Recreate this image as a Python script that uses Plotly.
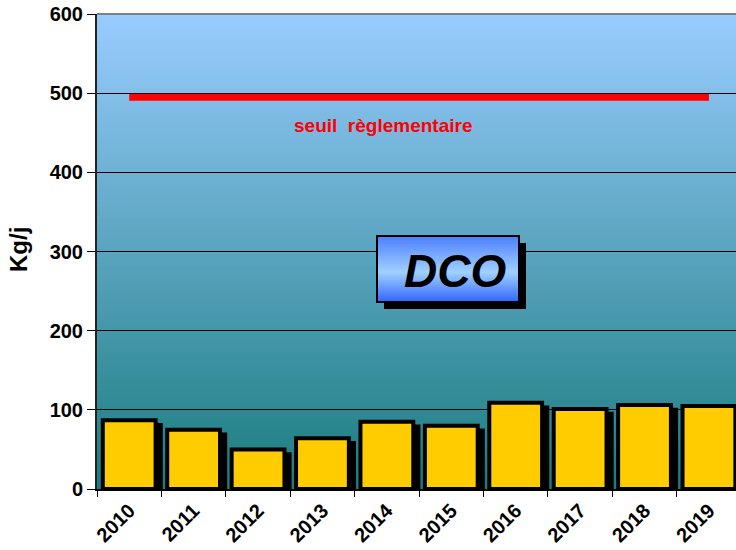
import plotly.graph_objects as go

# Annual DCO flux (kg/day) and the regulatory threshold
years = ["2010", "2011", "2012", "2013", "2014", "2015", "2016", "2017", "2018", "2019"]
dco_kgj = [87, 75, 50, 64, 85, 80, 109, 101, 106, 105]
seuil_kgj = 495
y_ticks = [0, 100, 200, 300, 400, 500, 600]

FONT = "Liberation Sans, Arial, sans-serif"
W, H = 736, 550
M_L, M_R, M_T, M_B = 97, 0, 14, 61
PLOT_W = W - M_L - M_R
PLOT_H = H - M_T - M_B


def px_x(px):
    return (px - M_L) / PLOT_W


def px_y(py):
    return (H - M_B - py) / PLOT_H


def hex_rgb(h):
    h = h.lstrip("#")
    return tuple(int(h[i:i + 2], 16) for i in (0, 2, 4))


def mix(stops, t):
    # stops: list of (position, hex colour), positions increasing 0..1
    for (p0, c0), (p1, c1) in zip(stops, stops[1:]):
        if p0 <= t <= p1:
            f = 0 if p1 == p0 else (t - p0) / (p1 - p0)
            a, b = hex_rgb(c0), hex_rgb(c1)
            return "rgb(%d,%d,%d)" % tuple(round(a[i] + (b[i] - a[i]) * f) for i in range(3))
    return stops[-1][1]


def gradient_rects(x0, x1, y0, y1, stops, n, layer="below"):
    # vertical gradient from y1 (top, t=0) to y0 (bottom, t=1), paper coords;
    # each strip reaches down over the next one so no seams show
    out = []
    step = (y1 - y0) / n
    for i in range(n):
        t = (i + 0.5) / n
        top = y1 - step * i
        bot = max(y0, top - step * 2)
        out.append(dict(type="rect", xref="paper", yref="paper",
                        x0=x0, x1=x1, y0=bot, y1=top,
                        fillcolor=mix(stops, t), line=dict(width=0), layer=layer))
    return out


shapes = []
# plot background: sky blue fading to teal
shapes += gradient_rects(0, 1, 0, 1, [(0, "#99CCFF"), (1, "#1A7C7E")], 160)

fig = go.Figure()

bar_w = 0.82
shadow_dx = 0.08
# drop shadow behind the bars
fig.add_trace(go.Bar(
    x=years, y=dco_kgj, base=-6, width=bar_w, offset=-bar_w / 2 + shadow_dx,
    marker=dict(color="black", line=dict(color="black", width=4)),
    hoverinfo="skip", showlegend=False,
))
fig.add_trace(go.Bar(
    x=years, y=dco_kgj, width=bar_w, offset=-bar_w / 2,
    marker=dict(color="#FFCC00", line=dict(color="black", width=4)),
    name="DCO", showlegend=False,
))
# regulatory threshold line
fig.add_trace(go.Scatter(
    x=years, y=[seuil_kgj] * len(years), mode="lines",
    line=dict(color="#FF0000", width=7), showlegend=False, hoverinfo="skip",
))

# top border of the plot area
shapes.append(dict(type="line", xref="paper", yref="paper", x0=0, x1=1, y0=1, y1=1,
                   line=dict(color="#808080", width=2), layer="above"))

# DCO title box with shadow and banded blue fill
bx0, bx1, by0, by1 = px_x(377), px_x(519), px_y(302), px_y(236)
sdx, sdy = px_x(384) - px_x(377), px_y(243) - px_y(236)
shapes.append(dict(type="rect", xref="paper", yref="paper",
                   x0=bx0 + sdx, x1=bx1 + sdx, y0=by0 + sdy, y1=by1 + sdy,
                   fillcolor="black", line=dict(width=0), layer="above"))
shapes += gradient_rects(bx0, bx1, by0, by1,
                         [(0, "#4D7FFF"), (0.55, "#A0D0FF"), (1, "#3366FF")], 30, layer="above")
shapes.append(dict(type="rect", xref="paper", yref="paper",
                   x0=bx0, x1=bx1, y0=by0, y1=by1,
                   fillcolor="rgba(0,0,0,0)", line=dict(color="black", width=2), layer="above"))

annotations = [
    dict(text="<b><i>DCO</i></b>", xref="paper", yref="paper",
         x=px_x(455), y=px_y(271), xanchor="center", yanchor="middle", showarrow=False,
         font=dict(family=FONT, size=46, color="black")),
    dict(text="<b>seuil  règlementaire</b>", xref="paper", yref="paper",
         x=px_x(383), y=px_y(125), xanchor="center", yanchor="middle", showarrow=False,
         font=dict(family=FONT, size=19, color="#FF0000")),
    dict(text="<b>Kg/j</b>", xref="paper", yref="paper",
         x=px_x(19), y=px_y(250), xanchor="center", yanchor="middle", showarrow=False,
         textangle=-90, font=dict(family=FONT, size=24, color="black")),
]

fig.update_layout(
    width=W, height=H,
    margin=dict(l=M_L, r=M_R, t=M_T, b=M_B, pad=0),
    paper_bgcolor="white", plot_bgcolor="rgba(0,0,0,0)",
    barmode="overlay",
    shapes=shapes, annotations=annotations,
    font=dict(family=FONT, color="black"),
    xaxis=dict(
        type="category", range=[-0.5, 9.42],
        showgrid=False, showline=True, linecolor="black", linewidth=2,
        ticks="outside", tickson="boundaries", ticklen=6, tickcolor="black",
        tickangle=-45, tickfont=dict(family=FONT, size=20, color="black", weight="bold"),
    ),
    yaxis=dict(
        range=[0, 600], tickvals=y_ticks,
        showgrid=True, gridcolor="black", gridwidth=1,
        showline=True, linecolor="#222222", linewidth=2,
        ticks="outside", ticklen=8, tickcolor="black",
        tickfont=dict(family=FONT, size=20, color="black", weight="bold"),
        zeroline=False,
    ),
)

fig.write_html("out.html")
